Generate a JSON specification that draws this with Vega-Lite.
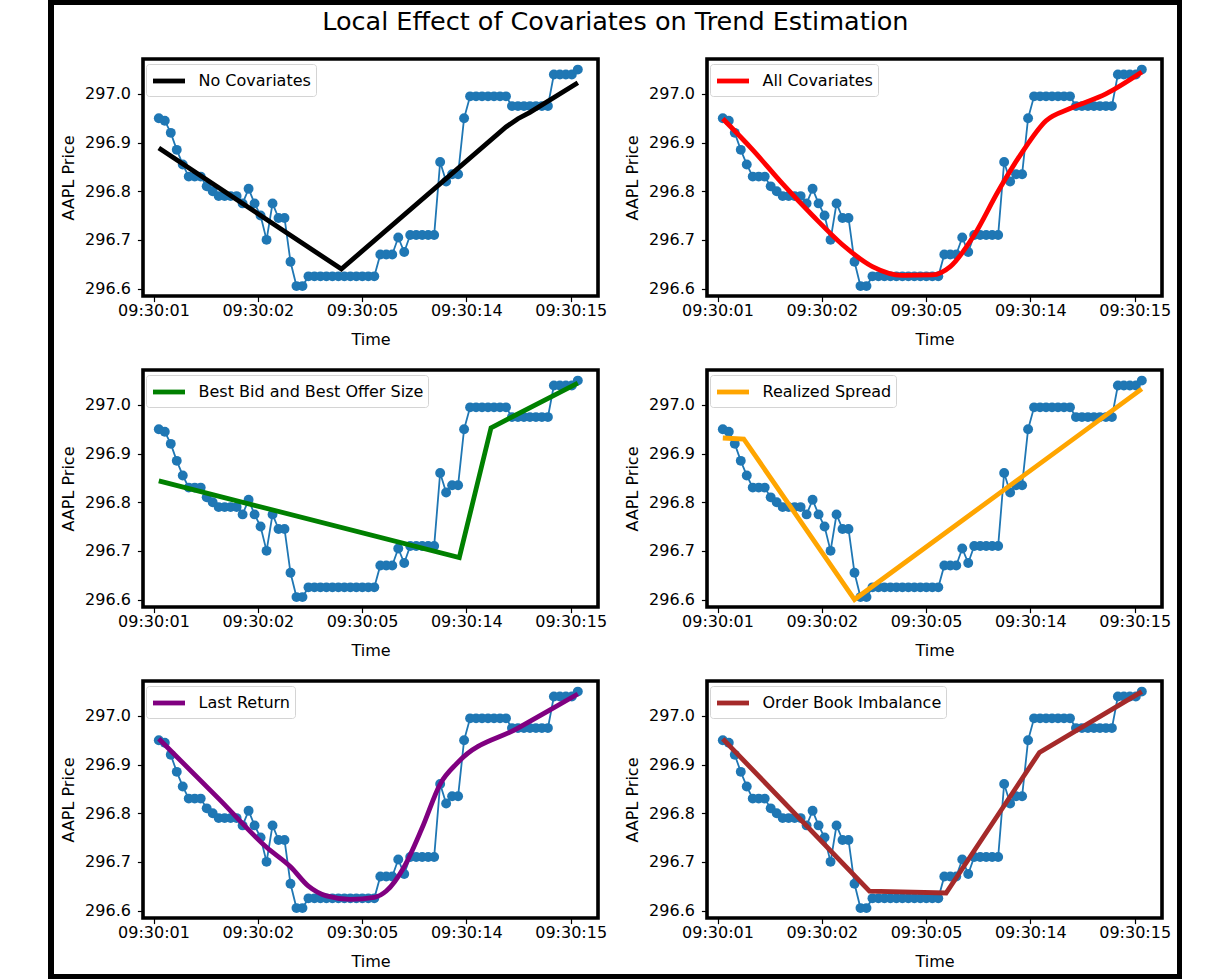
{
  "$schema": "https://vega.github.io/schema/vega-lite/v6.json",
  "background": "white",
  "padding": {"left": 48, "top": 0, "right": 0, "bottom": 0},
  "datasets": {
    "series": [
      {"i": 0, "p": 296.950}, {"i": 1, "p": 296.945}, {"i": 2, "p": 296.920}, {"i": 3, "p": 296.885},
      {"i": 4, "p": 296.855}, {"i": 5, "p": 296.830}, {"i": 6, "p": 296.830}, {"i": 7, "p": 296.830},
      {"i": 8, "p": 296.810}, {"i": 9, "p": 296.800}, {"i": 10, "p": 296.790}, {"i": 11, "p": 296.790},
      {"i": 12, "p": 296.790}, {"i": 13, "p": 296.790}, {"i": 14, "p": 296.775}, {"i": 15, "p": 296.805},
      {"i": 16, "p": 296.775}, {"i": 17, "p": 296.750}, {"i": 18, "p": 296.700}, {"i": 19, "p": 296.775},
      {"i": 20, "p": 296.745}, {"i": 21, "p": 296.745}, {"i": 22, "p": 296.655}, {"i": 23, "p": 296.605},
      {"i": 24, "p": 296.605}, {"i": 25, "p": 296.625}, {"i": 26, "p": 296.625}, {"i": 27, "p": 296.625},
      {"i": 28, "p": 296.625}, {"i": 29, "p": 296.625}, {"i": 30, "p": 296.625}, {"i": 31, "p": 296.625},
      {"i": 32, "p": 296.625}, {"i": 33, "p": 296.625}, {"i": 34, "p": 296.625}, {"i": 35, "p": 296.625},
      {"i": 36, "p": 296.625}, {"i": 37, "p": 296.670}, {"i": 38, "p": 296.670}, {"i": 39, "p": 296.670},
      {"i": 40, "p": 296.705}, {"i": 41, "p": 296.675}, {"i": 42, "p": 296.710}, {"i": 43, "p": 296.710},
      {"i": 44, "p": 296.710}, {"i": 45, "p": 296.710}, {"i": 46, "p": 296.710}, {"i": 47, "p": 296.860},
      {"i": 48, "p": 296.820}, {"i": 49, "p": 296.835}, {"i": 50, "p": 296.835}, {"i": 51, "p": 296.950},
      {"i": 52, "p": 296.995}, {"i": 53, "p": 296.995}, {"i": 54, "p": 296.995}, {"i": 55, "p": 296.995},
      {"i": 56, "p": 296.995}, {"i": 57, "p": 296.995}, {"i": 58, "p": 296.995}, {"i": 59, "p": 296.975},
      {"i": 60, "p": 296.975}, {"i": 61, "p": 296.975}, {"i": 62, "p": 296.975}, {"i": 63, "p": 296.975},
      {"i": 64, "p": 296.975}, {"i": 65, "p": 296.975}, {"i": 66, "p": 297.040}, {"i": 67, "p": 297.040},
      {"i": 68, "p": 297.040}, {"i": 69, "p": 297.040}, {"i": 70, "p": 297.050}
    ],
    "trends": [
      {"panel": 1, "label": "No Covariates", "i": 0, "v": 296.889},
      {"panel": 1, "label": "No Covariates", "i": 30.5, "v": 296.640},
      {"panel": 1, "label": "No Covariates", "i": 58, "v": 296.932},
      {"panel": 1, "label": "No Covariates", "i": 60, "v": 296.949},
      {"panel": 1, "label": "No Covariates", "i": 62, "v": 296.962},
      {"panel": 1, "label": "No Covariates", "i": 70, "v": 297.023},
      {"panel": 2, "label": "All Covariates", "i": 0, "v": 296.949},
      {"panel": 2, "label": "All Covariates", "i": 5, "v": 296.885},
      {"panel": 2, "label": "All Covariates", "i": 10, "v": 296.815},
      {"panel": 2, "label": "All Covariates", "i": 15, "v": 296.750},
      {"panel": 2, "label": "All Covariates", "i": 20, "v": 296.690},
      {"panel": 2, "label": "All Covariates", "i": 25, "v": 296.645},
      {"panel": 2, "label": "All Covariates", "i": 30, "v": 296.627},
      {"panel": 2, "label": "All Covariates", "i": 35, "v": 296.628},
      {"panel": 2, "label": "All Covariates", "i": 38, "v": 296.645},
      {"panel": 2, "label": "All Covariates", "i": 42, "v": 296.710},
      {"panel": 2, "label": "All Covariates", "i": 46, "v": 296.800},
      {"panel": 2, "label": "All Covariates", "i": 50, "v": 296.880},
      {"panel": 2, "label": "All Covariates", "i": 54, "v": 296.945},
      {"panel": 2, "label": "All Covariates", "i": 58, "v": 296.970},
      {"panel": 2, "label": "All Covariates", "i": 64, "v": 297.000},
      {"panel": 2, "label": "All Covariates", "i": 70, "v": 297.045},
      {"panel": 3, "label": "Best Bid and Best Offer Size", "i": 0, "v": 296.844},
      {"panel": 3, "label": "Best Bid and Best Offer Size", "i": 50.2, "v": 296.686},
      {"panel": 3, "label": "Best Bid and Best Offer Size", "i": 55.5, "v": 296.953},
      {"panel": 3, "label": "Best Bid and Best Offer Size", "i": 70, "v": 297.045},
      {"panel": 4, "label": "Realized Spread", "i": 0, "v": 296.932},
      {"panel": 4, "label": "Realized Spread", "i": 3.5, "v": 296.930},
      {"panel": 4, "label": "Realized Spread", "i": 22, "v": 296.600},
      {"panel": 4, "label": "Realized Spread", "i": 70, "v": 297.033},
      {"panel": 5, "label": "Last Return", "i": 0, "v": 296.953},
      {"panel": 5, "label": "Last Return", "i": 10, "v": 296.830},
      {"panel": 5, "label": "Last Return", "i": 18, "v": 296.730},
      {"panel": 5, "label": "Last Return", "i": 22, "v": 296.690},
      {"panel": 5, "label": "Last Return", "i": 25, "v": 296.650},
      {"panel": 5, "label": "Last Return", "i": 28, "v": 296.630},
      {"panel": 5, "label": "Last Return", "i": 32, "v": 296.623},
      {"panel": 5, "label": "Last Return", "i": 36, "v": 296.627},
      {"panel": 5, "label": "Last Return", "i": 38, "v": 296.640},
      {"panel": 5, "label": "Last Return", "i": 41, "v": 296.690},
      {"panel": 5, "label": "Last Return", "i": 44, "v": 296.770},
      {"panel": 5, "label": "Last Return", "i": 47, "v": 296.860},
      {"panel": 5, "label": "Last Return", "i": 50, "v": 296.905},
      {"panel": 5, "label": "Last Return", "i": 60, "v": 296.975},
      {"panel": 5, "label": "Last Return", "i": 70, "v": 297.045},
      {"panel": 6, "label": "Order Book Imbalance", "i": 0, "v": 296.953},
      {"panel": 6, "label": "Order Book Imbalance", "i": 24.5, "v": 296.640},
      {"panel": 6, "label": "Order Book Imbalance", "i": 37.3, "v": 296.636},
      {"panel": 6, "label": "Order Book Imbalance", "i": 52.9, "v": 296.925},
      {"panel": 6, "label": "Order Book Imbalance", "i": 70, "v": 297.050}
    ]
  },
  "vconcat": [
    {"width": 1134, "height": 5, "data": {"values": []}, "mark": {"type": "point", "opacity": 0}, "encoding": {}, "view": {"fill": "black", "stroke": null}},
    {
      "hconcat": [
        {"width": 6, "height": 969, "data": {"values": []}, "mark": {"type": "point", "opacity": 0}, "encoding": {}, "view": {"fill": "black", "stroke": null}},
        {
          "vconcat": [
            {"width": 1029.5, "height": 3, "data": {"values": []}, "mark": {"type": "point", "opacity": 0}, "encoding": {}, "view": {"stroke": null}},
            {
              "title": {"text": "Local Effect of Covariates on Trend Estimation", "fontSize": 25.5, "font": "DejaVu Sans", "fontWeight": "normal", "color": "black", "anchor": "middle", "offset": 21.5},
              "columns": 2,
              "spacing": {"row": 74, "column": 109},
              "bounds": "flush",
              "resolve": {"scale": {"color": "independent"}},
              "concat": [
                {"width": 455, "height": 237, "layer": [
                  {"data": {"name": "series"}, "mark": {"type": "line", "color": "#1f77b4", "strokeWidth": 1.8}, "encoding": {"x": {"field": "i", "type": "quantitative", "title": "Time", "scale": {"domain": [-2.64, 73.37], "nice": false, "zero": false}, "axis": {"values": [-0.885, 16.54, 33.96, 51.38, 68.8], "labelExpr": "datum.value < 5 ? '09:30:01' : datum.value < 25 ? '09:30:02' : datum.value < 42 ? '09:30:05' : datum.value < 60 ? '09:30:14' : '09:30:15'"}}, "y": {"field": "p", "type": "quantitative", "title": "AAPL Price", "scale": {"domain": [296.5846, 297.0718], "nice": false, "zero": false}, "axis": {"values": [296.6, 296.7, 296.8, 296.9, 297.0], "format": ".1f"}}}},
                  {"data": {"name": "series"}, "mark": {"type": "circle", "color": "#1f77b4", "opacity": 1, "size": 98}, "encoding": {"x": {"field": "i", "type": "quantitative", "title": "Time"}, "y": {"field": "p", "type": "quantitative", "title": "AAPL Price"}}},
                  {"data": {"name": "trends"}, "transform": [{"filter": "datum.panel == 1"}], "mark": {"type": "line", "strokeWidth": 4.8}, "encoding": {"x": {"field": "i", "type": "quantitative", "title": "Time"}, "y": {"field": "v", "type": "quantitative", "title": "AAPL Price"}, "color": {"field": "label", "type": "nominal", "scale": {"domain": ["No Covariates"], "range": ["#000000"]}, "legend": {"title": null}}}}
                ]},
                {"width": 455, "height": 237, "layer": [
                  {"data": {"name": "series"}, "mark": {"type": "line", "color": "#1f77b4", "strokeWidth": 1.8}, "encoding": {"x": {"field": "i", "type": "quantitative", "title": "Time", "scale": {"domain": [-2.64, 73.37], "nice": false, "zero": false}, "axis": {"values": [-0.885, 16.54, 33.96, 51.38, 68.8], "labelExpr": "datum.value < 5 ? '09:30:01' : datum.value < 25 ? '09:30:02' : datum.value < 42 ? '09:30:05' : datum.value < 60 ? '09:30:14' : '09:30:15'"}}, "y": {"field": "p", "type": "quantitative", "title": "AAPL Price", "scale": {"domain": [296.5846, 297.0718], "nice": false, "zero": false}, "axis": {"values": [296.6, 296.7, 296.8, 296.9, 297.0], "format": ".1f"}}}},
                  {"data": {"name": "series"}, "mark": {"type": "circle", "color": "#1f77b4", "opacity": 1, "size": 98}, "encoding": {"x": {"field": "i", "type": "quantitative", "title": "Time"}, "y": {"field": "p", "type": "quantitative", "title": "AAPL Price"}}},
                  {"data": {"name": "trends"}, "transform": [{"filter": "datum.panel == 2"}], "mark": {"type": "line", "strokeWidth": 4.8, "interpolate": "monotone"}, "encoding": {"x": {"field": "i", "type": "quantitative", "title": "Time"}, "y": {"field": "v", "type": "quantitative", "title": "AAPL Price"}, "color": {"field": "label", "type": "nominal", "scale": {"domain": ["All Covariates"], "range": ["#ff0000"]}, "legend": {"title": null}}}}
                ]},
                {"width": 455, "height": 237, "layer": [
                  {"data": {"name": "series"}, "mark": {"type": "line", "color": "#1f77b4", "strokeWidth": 1.8}, "encoding": {"x": {"field": "i", "type": "quantitative", "title": "Time", "scale": {"domain": [-2.64, 73.37], "nice": false, "zero": false}, "axis": {"values": [-0.885, 16.54, 33.96, 51.38, 68.8], "labelExpr": "datum.value < 5 ? '09:30:01' : datum.value < 25 ? '09:30:02' : datum.value < 42 ? '09:30:05' : datum.value < 60 ? '09:30:14' : '09:30:15'"}}, "y": {"field": "p", "type": "quantitative", "title": "AAPL Price", "scale": {"domain": [296.5846, 297.0718], "nice": false, "zero": false}, "axis": {"values": [296.6, 296.7, 296.8, 296.9, 297.0], "format": ".1f"}}}},
                  {"data": {"name": "series"}, "mark": {"type": "circle", "color": "#1f77b4", "opacity": 1, "size": 98}, "encoding": {"x": {"field": "i", "type": "quantitative", "title": "Time"}, "y": {"field": "p", "type": "quantitative", "title": "AAPL Price"}}},
                  {"data": {"name": "trends"}, "transform": [{"filter": "datum.panel == 3"}], "mark": {"type": "line", "strokeWidth": 4.8}, "encoding": {"x": {"field": "i", "type": "quantitative", "title": "Time"}, "y": {"field": "v", "type": "quantitative", "title": "AAPL Price"}, "color": {"field": "label", "type": "nominal", "scale": {"domain": ["Best Bid and Best Offer Size"], "range": ["#008000"]}, "legend": {"title": null}}}}
                ]},
                {"width": 455, "height": 237, "layer": [
                  {"data": {"name": "series"}, "mark": {"type": "line", "color": "#1f77b4", "strokeWidth": 1.8}, "encoding": {"x": {"field": "i", "type": "quantitative", "title": "Time", "scale": {"domain": [-2.64, 73.37], "nice": false, "zero": false}, "axis": {"values": [-0.885, 16.54, 33.96, 51.38, 68.8], "labelExpr": "datum.value < 5 ? '09:30:01' : datum.value < 25 ? '09:30:02' : datum.value < 42 ? '09:30:05' : datum.value < 60 ? '09:30:14' : '09:30:15'"}}, "y": {"field": "p", "type": "quantitative", "title": "AAPL Price", "scale": {"domain": [296.5846, 297.0718], "nice": false, "zero": false}, "axis": {"values": [296.6, 296.7, 296.8, 296.9, 297.0], "format": ".1f"}}}},
                  {"data": {"name": "series"}, "mark": {"type": "circle", "color": "#1f77b4", "opacity": 1, "size": 98}, "encoding": {"x": {"field": "i", "type": "quantitative", "title": "Time"}, "y": {"field": "p", "type": "quantitative", "title": "AAPL Price"}}},
                  {"data": {"name": "trends"}, "transform": [{"filter": "datum.panel == 4"}], "mark": {"type": "line", "strokeWidth": 4.8}, "encoding": {"x": {"field": "i", "type": "quantitative", "title": "Time"}, "y": {"field": "v", "type": "quantitative", "title": "AAPL Price"}, "color": {"field": "label", "type": "nominal", "scale": {"domain": ["Realized Spread"], "range": ["#ffa500"]}, "legend": {"title": null}}}}
                ]},
                {"width": 455, "height": 237, "layer": [
                  {"data": {"name": "series"}, "mark": {"type": "line", "color": "#1f77b4", "strokeWidth": 1.8}, "encoding": {"x": {"field": "i", "type": "quantitative", "title": "Time", "scale": {"domain": [-2.64, 73.37], "nice": false, "zero": false}, "axis": {"values": [-0.885, 16.54, 33.96, 51.38, 68.8], "labelExpr": "datum.value < 5 ? '09:30:01' : datum.value < 25 ? '09:30:02' : datum.value < 42 ? '09:30:05' : datum.value < 60 ? '09:30:14' : '09:30:15'"}}, "y": {"field": "p", "type": "quantitative", "title": "AAPL Price", "scale": {"domain": [296.5846, 297.0718], "nice": false, "zero": false}, "axis": {"values": [296.6, 296.7, 296.8, 296.9, 297.0], "format": ".1f"}}}},
                  {"data": {"name": "series"}, "mark": {"type": "circle", "color": "#1f77b4", "opacity": 1, "size": 98}, "encoding": {"x": {"field": "i", "type": "quantitative", "title": "Time"}, "y": {"field": "p", "type": "quantitative", "title": "AAPL Price"}}},
                  {"data": {"name": "trends"}, "transform": [{"filter": "datum.panel == 5"}], "mark": {"type": "line", "strokeWidth": 4.8, "interpolate": "monotone"}, "encoding": {"x": {"field": "i", "type": "quantitative", "title": "Time"}, "y": {"field": "v", "type": "quantitative", "title": "AAPL Price"}, "color": {"field": "label", "type": "nominal", "scale": {"domain": ["Last Return"], "range": ["#800080"]}, "legend": {"title": null}}}}
                ]},
                {"width": 455, "height": 237, "layer": [
                  {"data": {"name": "series"}, "mark": {"type": "line", "color": "#1f77b4", "strokeWidth": 1.8}, "encoding": {"x": {"field": "i", "type": "quantitative", "title": "Time", "scale": {"domain": [-2.64, 73.37], "nice": false, "zero": false}, "axis": {"values": [-0.885, 16.54, 33.96, 51.38, 68.8], "labelExpr": "datum.value < 5 ? '09:30:01' : datum.value < 25 ? '09:30:02' : datum.value < 42 ? '09:30:05' : datum.value < 60 ? '09:30:14' : '09:30:15'"}}, "y": {"field": "p", "type": "quantitative", "title": "AAPL Price", "scale": {"domain": [296.5846, 297.0718], "nice": false, "zero": false}, "axis": {"values": [296.6, 296.7, 296.8, 296.9, 297.0], "format": ".1f"}}}},
                  {"data": {"name": "series"}, "mark": {"type": "circle", "color": "#1f77b4", "opacity": 1, "size": 98}, "encoding": {"x": {"field": "i", "type": "quantitative", "title": "Time"}, "y": {"field": "p", "type": "quantitative", "title": "AAPL Price"}}},
                  {"data": {"name": "trends"}, "transform": [{"filter": "datum.panel == 6"}], "mark": {"type": "line", "strokeWidth": 4.8}, "encoding": {"x": {"field": "i", "type": "quantitative", "title": "Time"}, "y": {"field": "v", "type": "quantitative", "title": "AAPL Price"}, "color": {"field": "label", "type": "nominal", "scale": {"domain": ["Order Book Imbalance"], "range": ["#a52a2a"]}, "legend": {"title": null}}}}
                ]}
              ]
            }
          ],
          "spacing": 2,
          "resolve": {"scale": {"color": "independent"}}
        },
        {"width": 5, "height": 969, "data": {"values": []}, "mark": {"type": "point", "opacity": 0}, "encoding": {}, "view": {"fill": "black", "stroke": null}}
      ],
      "spacing": 4,
      "resolve": {"scale": {"color": "independent"}}
    },
    {"width": 1134, "height": 5, "data": {"values": []}, "mark": {"type": "point", "opacity": 0}, "encoding": {}, "view": {"fill": "black", "stroke": null}}
  ],
  "spacing": 0,
  "resolve": {"scale": {"color": "independent"}},
  "config": {
    "font": "DejaVu Sans",
    "view": {"stroke": "black", "strokeWidth": 3.6},
    "axis": {"labelFont": "DejaVu Sans", "labelFontSize": 16, "labelColor": "black", "titleFont": "DejaVu Sans", "titleFontSize": 16, "titleFontWeight": "normal", "titleColor": "black", "tickColor": "black", "tickSize": 5.6, "tickWidth": 1.2, "domain": false, "grid": false},
    "axisX": {"labelPadding": 0.5, "titlePadding": 13},
    "axisY": {"labelPadding": 7, "titlePadding": 8.5},
    "legend": {"orient": "none", "legendX": 3, "legendY": 5, "padding": 4.5, "strokeColor": "#d4d4d4", "fillColor": "rgba(255,255,255,0.8)", "cornerRadius": 3, "symbolType": "M-1.6,0H1.6", "symbolStrokeWidth": 4.8, "symbolSize": 400, "symbolOffset": 6, "labelFont": "DejaVu Sans", "labelFontSize": 16, "labelColor": "black", "labelOffset": 17, "labelLimit": 500}
  }
}
